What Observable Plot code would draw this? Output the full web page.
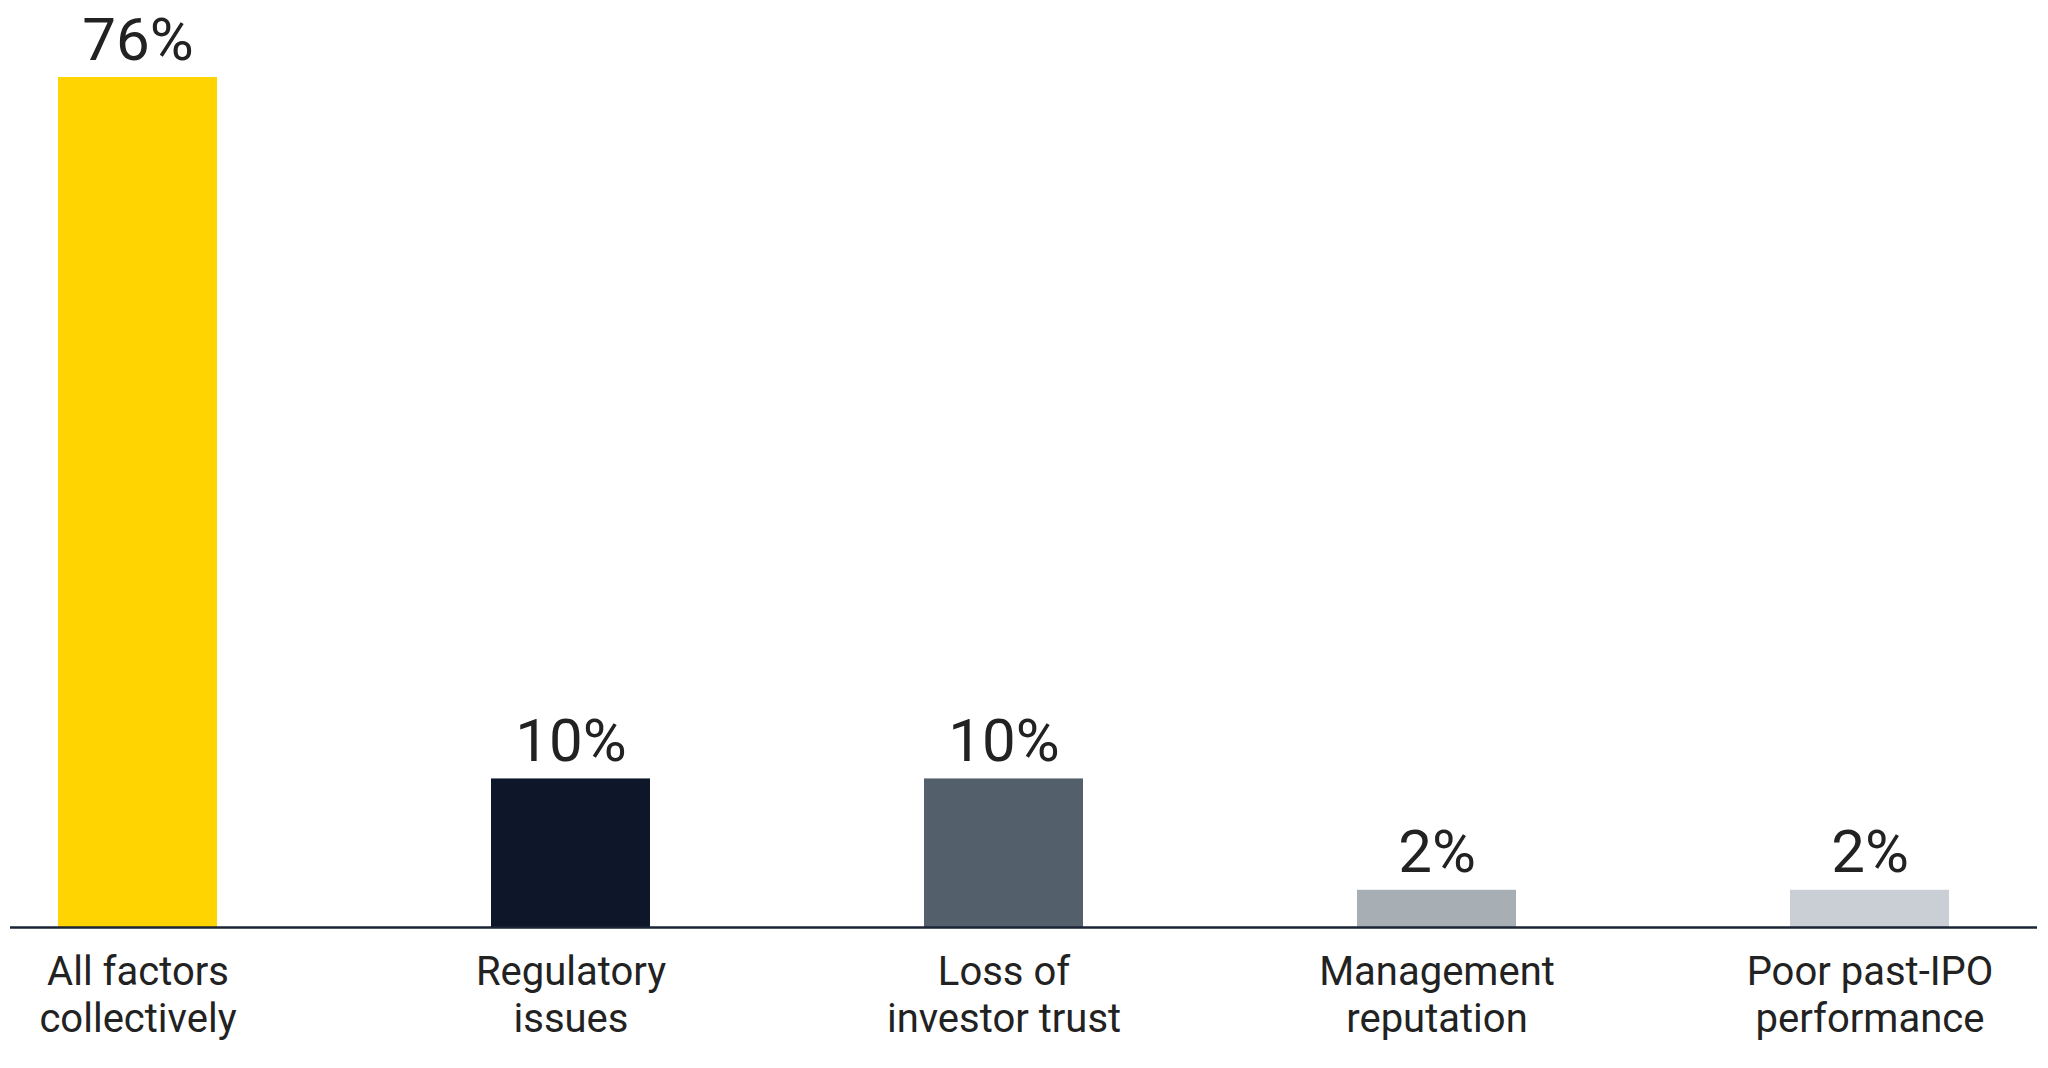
<!DOCTYPE html>
<html>
<head>
<meta charset="utf-8">
<script src="https://cdn.jsdelivr.net/npm/d3@7"></script>
<script src="https://cdn.jsdelivr.net/npm/@observablehq/plot@0.6"></script>
<style>
  html, body { margin: 0; padding: 0; background: #fff; }
  #chart svg { display: block; }
</style>
</head>
<body>
<div id="chart"></div>
<script>
const categories = ["All factors collectively", "Regulatory issues", "Loss of investor trust", "Management reputation", "Poor past-IPO performance"];
const tickLabels = ["All factors\ncollectively", "Regulatory\nissues", "Loss of\ninvestor trust", "Management\nreputation", "Poor past-IPO\nperformance"];
const values = [76, 10, 10, 2, 2];
const valueLabels = ["76%", "10%", "10%", "2%", "2%"];
const colors = ["#FFD400", "#0E1729", "#545F6C", "#A7AEB4", "#C9CFD4"];

const data = categories.map((c, i) => ({category: c, value: values[i], label: valueLabels[i], color: colors[i]}));
const labelOf = new Map(categories.map((c, i) => [c, tickLabels[i]]));

const chart = Plot.plot({
  width: 2048,
  height: 1068,
  marginLeft: 10,
  marginRight: 11,
  marginTop: 77,
  marginBottom: 141,
  style: {fontFamily: "Roboto, sans-serif", color: "#222", background: "#fff"},
  x: {domain: categories, paddingInner: 0.633, paddingOuter: 0.157, align: 0.35, label: null},
  y: {type: "pow", exponent: 0.86, domain: [0, 76], axis: null},
  marks: [
    Plot.barY(data, {x: "category", y: "value", fill: "color"}),
    Plot.ruleY([0], {stroke: "#1B2436", strokeWidth: 2.5}),
    Plot.text(data, {x: "category", y: "value", text: "label", lineAnchor: "bottom", dy: -18, fontSize: 60, fill: "#222"}),
    Plot.axisX({tickSize: 0, tickPadding: 24, fontSize: 40, lineHeight: 1.17, tickFormat: (d) => labelOf.get(d), fill: "#222", label: null})
  ]
});
document.getElementById("chart").appendChild(chart);
</script>
</body>
</html>
